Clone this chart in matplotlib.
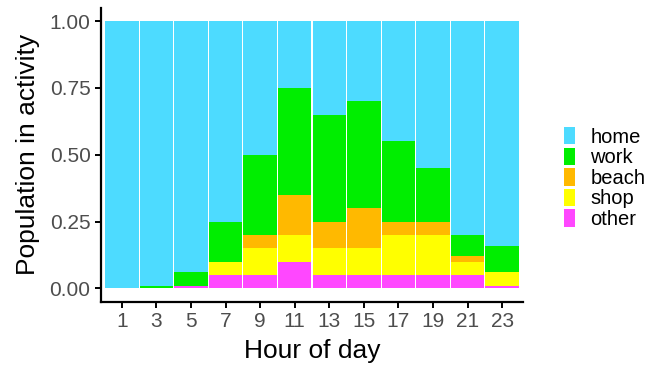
import matplotlib
matplotlib.use("Agg")
import matplotlib.pyplot as plt
import numpy as np
from matplotlib.patches import Patch

hours = [1, 3, 5, 7, 9, 11, 13, 15, 17, 19, 21, 23]
other = [0.003, 0.0, 0.01, 0.05, 0.05, 0.10, 0.05, 0.05, 0.05, 0.05, 0.05, 0.01]
shop  = [0.0, 0.0, 0.0, 0.05, 0.10, 0.10, 0.10, 0.10, 0.15, 0.15, 0.05, 0.05]
beach = [0.0, 0.0, 0.0, 0.0, 0.05, 0.15, 0.10, 0.15, 0.05, 0.05, 0.02, 0.0]
work  = [0.0, 0.01, 0.05, 0.15, 0.30, 0.40, 0.40, 0.40, 0.30, 0.20, 0.08, 0.10]
home  = [1 - o - s - b - w for o, s, b, w in zip(other, shop, beach, work)]

series = [("other", other, "#ff47ff"), ("shop", shop, "#ffff00"),
          ("beach", beach, "#ffb900"), ("work", work, "#00ee00"),
          ("home", home, "#4ddbff")]
legend_order = ["home", "work", "beach", "shop", "other"]

plt.rcParams['font.family'] = ['Liberation Sans', 'DejaVu Sans']
fig = plt.figure(figsize=(6.59, 3.67), dpi=100)
ax = fig.add_axes([0.1533, 0.178, 0.7936 - 0.1533, 0.979 - 0.178])

bottom = np.zeros(len(hours))
colors = {}
for name, vals, col in series:
    v = np.array(vals)
    ax.bar(hours, v, width=1.94, bottom=bottom, color=col, edgecolor='none', linewidth=0)
    bottom += v
    colors[name] = col

ax.set_xlim(-0.2, 24.2)
ax.set_ylim(-0.05, 1.05)
ax.set_xticks(hours)
ax.set_yticks([0, 0.25, 0.5, 0.75, 1.0])
ax.set_yticklabels(["0.00", "0.25", "0.50", "0.75", "1.00"])
for s in ['top', 'right']:
    ax.spines[s].set_visible(False)
for s in ['left', 'bottom']:
    ax.spines[s].set_linewidth(1.6)
    ax.spines[s].set_color('black')
ax.tick_params(axis='both', length=4, width=1.4, color='black',
               labelsize=15, labelcolor='#4d4d4d', pad=3.5)
ax.set_xlabel("Hour of day", fontsize=19, labelpad=6)
ax.set_ylabel("Population in activity", fontsize=19, labelpad=7)

handles = [Patch(facecolor=colors[n], edgecolor='none') for n in legend_order]
fig.legend(handles, legend_order, loc='center left', bbox_to_anchor=(0.841, 0.515),
           frameon=False, fontsize=14.5, handlelength=0.55, handleheight=0.95,
           labelspacing=0.05, handletextpad=0.75, borderpad=0)

fig.savefig("out.png", dpi=100)
